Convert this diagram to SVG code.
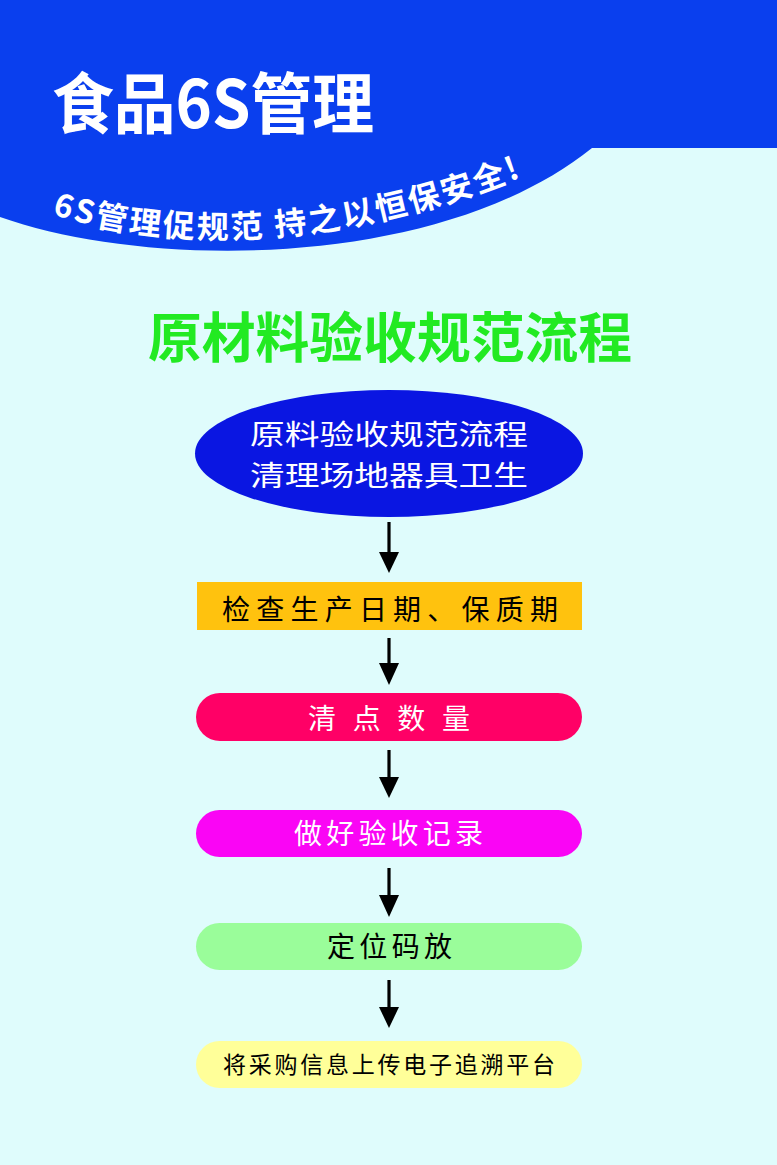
<svg xmlns="http://www.w3.org/2000/svg" width="777" height="1165" viewBox="0 0 777 1165">
<style>
.cjk{font-family:"Noto Sans CJK SC","Noto Sans",sans-serif}
.b{font-weight:bold}
.w{fill:#ffffff}
.k{fill:#000000}
.lbl{font-size:28px}
.arrow-line{stroke:#000;stroke-width:3.2}
</style>
<defs>
<path id="subPath" d="M 52 214 C 150 247, 330 260, 548 166"/>
</defs>
<rect x="0" y="0" width="777" height="1165" fill="#DFFCFC"/>
<g id="header">
<path d="M0 0 H777 V148 H592 C 440 270, 150 270, 0 217 Z" fill="#0A3FEE"/>
<text class="cjk b w" x="52" y="128" font-size="66" textLength="322" lengthAdjust="spacingAndGlyphs">食品6S管理</text>
<text class="cjk b w" font-size="32" letter-spacing="2.5"><textPath href="#subPath">6S管理促规范 持之以恒保安全!</textPath></text>
</g>
<g id="section-title">
<text class="cjk b" x="148" y="358" font-size="54" fill="#22EA22" textLength="484" lengthAdjust="spacingAndGlyphs">原材料验收规范流程</text>
</g>
<g id="node-start">
<ellipse cx="389" cy="453.5" rx="194" ry="63.5" fill="#0A16E2"/>
<text class="cjk w" x="250" y="445" font-size="28" textLength="278" lengthAdjust="spacingAndGlyphs">原料验收规范流程</text>
<text class="cjk w" x="250" y="486" font-size="28" textLength="278" lengthAdjust="spacingAndGlyphs">清理场地器具卫生</text>
</g>
<g id="node-check">
<rect x="197" y="582" width="385" height="48" fill="#FFC20E"/>
<text class="cjk k lbl" x="222" y="620" textLength="336" lengthAdjust="spacing">检查生产日期、保质期</text>
</g>
<g id="node-count">
<rect x="196" y="693" width="386" height="48" rx="24" fill="#FF0066"/>
<text class="cjk w lbl" x="308" y="729" textLength="162" lengthAdjust="spacing">清点数量</text>
</g>
<g id="node-record">
<rect x="196" y="810" width="386" height="47" rx="23.5" fill="#FA05F5"/>
<text class="cjk w lbl" x="294" y="844" textLength="189" lengthAdjust="spacing">做好验收记录</text>
</g>
<g id="node-place">
<rect x="196" y="923" width="386" height="47" rx="23.5" fill="#9AFD9A"/>
<text class="cjk k lbl" x="327" y="957" textLength="125" lengthAdjust="spacing">定位码放</text>
</g>
<g id="node-upload">
<rect x="196" y="1041" width="386" height="47" rx="23.5" fill="#FFFF99"/>
<text class="cjk k" x="223" y="1073" font-size="23" textLength="332" lengthAdjust="spacing">将采购信息上传电子追溯平台</text>
</g>
<g id="connectors">
<line class="arrow-line" x1="389" y1="522" x2="389" y2="556"/>
<polygon points="379,552 399,552 389,573"/>
<line class="arrow-line" x1="389" y1="638" x2="389" y2="667"/>
<polygon points="379,663 399,663 389,685"/>
<line class="arrow-line" x1="389" y1="750" x2="389" y2="780"/>
<polygon points="379,777 399,777 389,798"/>
<line class="arrow-line" x1="389" y1="868" x2="389" y2="898"/>
<polygon points="379,895 399,895 389,917"/>
<line class="arrow-line" x1="389" y1="980" x2="389" y2="1011"/>
<polygon points="379,1007 399,1007 389,1028"/>
</g>
</svg>
